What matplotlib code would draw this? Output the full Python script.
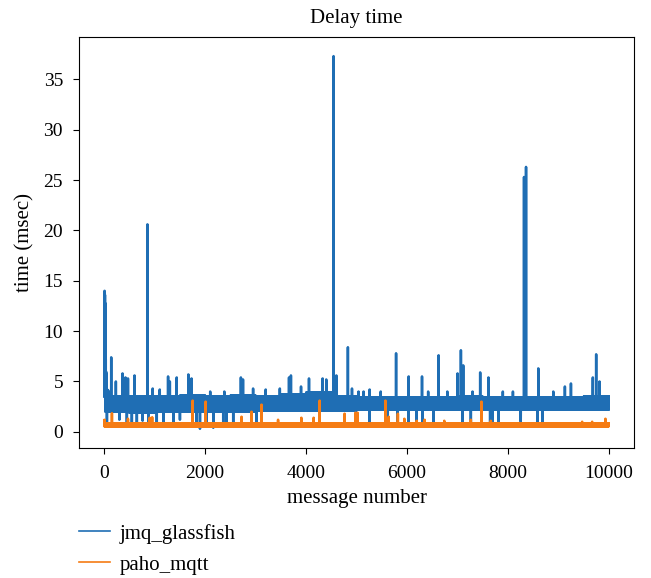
import numpy as np
import matplotlib
matplotlib.use("Agg")
import matplotlib.pyplot as plt

plt.rcParams['font.family'] = ['Liberation Serif', 'DejaVu Serif']

n_msgs = 10000
seg_len = 500

# band envelope of jmq_glassfish per 500-message segment
blue_top = [3.5, 3.5, 3.5, 3.6, 3.5, 3.6, 3.5, 3.7, 3.9, 3.5,
            3.4, 3.4, 3.4, 3.4, 3.5, 3.4, 3.4, 3.4, 3.4, 3.5]
blue_bottom = [2.0, 1.9, 2.0, 2.0, 2.0, 2.0, 2.1, 2.1, 2.1, 2.1,
               2.2, 2.2, 2.2, 2.2, 2.2, 2.2, 2.2, 2.2, 2.2, 2.2]

# start-up transient
blue_early_idx = [0, 2, 4, 6, 8, 10, 12, 14, 16, 18, 20, 22, 26, 30, 35, 40, 45,
                  50, 55, 60, 70, 80, 90]
blue_early_val = [10.8, 13.5, 11.5, 14.0, 11.2, 13.8, 12.0, 13.6, 11.0, 12.8,
                  10.9, 7.3, 6.8, 7.2, 6.0, 4.5, 5.8, 4.1, 4.0, 4.2, 4.0, 4.1, 3.9]

blue_spike_x = [138, 230, 362, 420, 470, 600, 856, 960, 1100, 1265, 1300, 1436,
                1667, 1730, 2100, 2380, 2708, 2750, 2950, 3200, 3480, 3662, 3700,
                3900, 4058, 4328, 4400, 4545, 4600, 4829, 4910, 5040, 5140, 5260,
                5480, 5784, 6034, 6298, 6420, 6627, 6800, 7003, 7069, 7115, 7300,
                7451, 7615, 7900, 8100, 8320, 8360, 8603, 8900, 9130, 9250, 9684,
                9750, 9816]
blue_spike_y = [7.4, 5.0, 5.8, 5.4, 5.3, 5.6, 20.6, 4.3, 4.2, 5.5, 5.0, 5.4,
                5.7, 5.3, 4.0, 4.0, 5.4, 5.2, 4.3, 4.2, 4.3, 5.4, 5.6,
                4.5, 5.3, 5.3, 5.2, 37.3, 5.6, 8.4, 4.3, 4.0, 4.0, 4.2,
                4.0, 7.8, 5.5, 5.5, 4.0, 7.6, 4.0, 5.8, 8.1, 6.6, 4.0,
                5.9, 5.4, 4.0, 4.0, 25.3, 26.3, 6.3, 4.0, 4.5, 4.8, 5.4,
                7.7, 5.0]

blue_dip_x = [53, 300, 448, 547, 646, 760, 876, 1041, 1172, 1370, 1500, 1831,
              1897, 2029, 2161, 2358, 2424, 2556, 3017, 5257, 5619, 5817, 6028,
              6192, 6311, 6522, 7101, 7266, 7648, 7694, 7812, 8255, 8583, 8682]
blue_dip_y = [1.0, 1.2, 0.5, 0.6, 0.5, 1.1, 0.6, 0.5, 0.7, 0.6, 1.2, 0.6,
              0.3, 0.5, 0.4, 0.5, 0.6, 0.5, 1.0, 1.0, 0.6, 1.0, 0.8,
              0.5, 0.8, 0.5, 0.9, 1.0, 0.8, 0.9, 1.0, 1.0, 0.8, 0.8]

# paho_mqtt
orange_low = 0.55
orange_high = 0.85
orange_spike_x = [0, 5, 10, 152, 470, 900, 950, 1752, 2009, 2721, 2919, 3117,
                  3445, 3907, 4150, 4269, 4763, 4980, 5020, 5573, 5638, 5820,
                  5949, 6192, 6350, 6739, 7266, 7476, 7662, 9472, 9670, 9934]
orange_spike_y = [1.1, 1.2, 1.0, 1.85, 1.3, 1.4, 1.45, 3.1, 3.0, 1.5, 2.0, 2.7,
                  1.2, 1.4, 1.4, 3.1, 1.8, 1.9, 1.9, 3.1, 1.5, 1.8,
                  1.3, 1.1, 1.2, 1.1, 1.2, 3.0, 1.1, 1.0, 1.0, 1.3]

msg = np.arange(n_msgs)
seg = msg // seg_len
odd = msg % 2 == 1

jmq = np.where(odd, np.array(blue_top)[seg], np.array(blue_bottom)[seg])
jmq[blue_early_idx] = blue_early_val
jmq[blue_spike_x] = blue_spike_y
jmq[blue_dip_x] = blue_dip_y

paho = np.where(odd, orange_high, orange_low)
paho[orange_spike_x] = orange_spike_y

fig = plt.figure(figsize=(6.51, 5.78), dpi=100)
ax = fig.add_axes([0.1214, 0.225, 0.8525, 0.711])

ax.plot(msg, jmq, color='#1f6eb4', lw=1.8, label='jmq_glassfish')
ax.plot(msg, paho, color='#f57c14', lw=1.8, label='paho_mqtt')

ax.set_xlim(-500, 10500)
ax.set_ylim(-1.6, 39.2)
ax.set_xticks([0, 2000, 4000, 6000, 8000, 10000])
ax.set_yticks([0, 5, 10, 15, 20, 25, 30, 35])
ax.tick_params(labelsize=14, length=4.5)
ax.tick_params(axis='x', pad=7.5)
ax.tick_params(axis='y', pad=7)
ax.set_title('Delay time', fontsize=15, pad=10)
ax.set_xlabel('message number', fontsize=15)
ax.set_ylabel('time (msec)', fontsize=15)
ax.xaxis.set_label_coords(0.5, -0.1)
ax.yaxis.set_label_coords(-0.08, 0.5)

leg = fig.legend(loc='upper left', bbox_to_anchor=(0.1214, 0.094), frameon=False,
                 borderpad=0, borderaxespad=0, fontsize=15, handlelength=1.5,
                 handletextpad=0.45, labelspacing=0.55)
for line in leg.get_lines():
    line.set_linewidth(1.2)

fig.savefig('out.png', dpi=100)
